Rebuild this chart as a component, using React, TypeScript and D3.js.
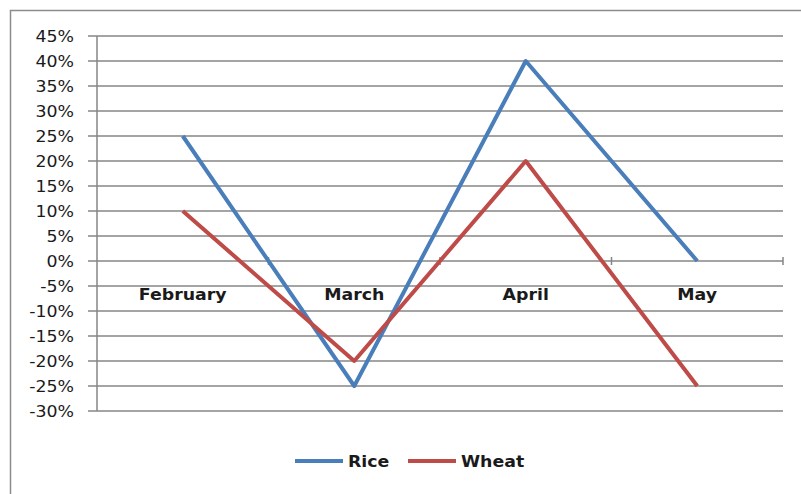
import React from "react";
import * as d3 from "d3";

const categories = ["February", "March", "April", "May"];
const rice = [25, -25, 40, 0];
const wheat = [10, -20, 20, -25];
const yTicks = [45, 40, 35, 30, 25, 20, 15, 10, 5, 0, -5, -10, -15, -20, -25, -30];
const seriesNames = ["Rice", "Wheat"];
const colors = ["#4a7ebb", "#be4b48"];

export default function App() {
  const W = 801, H = 494;
  const left = 97, right = 783, top = 36, bottom = 411;
  const x = d3.scaleBand<string>().domain(categories).range([left, right]);
  const y = d3.scaleLinear().domain([-30, 45]).range([bottom, top]);
  const line = d3
    .line<number>()
    .x((_, i) => (x(categories[i]) as number) + x.bandwidth() / 2)
    .y((d) => y(d));
  const series = [rice, wheat];
  const font = "'DejaVu Sans', sans-serif";
  return (
    <svg width={W} height={H} style={{ position: "absolute", left: 0, top: 0, background: "#fff" }}>
      <rect x={10.5} y={10.5} width={800} height={500} fill="#fff" stroke="#8c8c8c" strokeWidth={1.5} />
      {yTicks.map((t) => (
        <g key={t}>
          <line x1={88} x2={right} y1={y(t)} y2={y(t)} stroke="#868686" strokeWidth={1.5} />
          <text x={74} y={y(t)} dy="0.36em" textAnchor="end" fontFamily={font} fontSize={15.5} fill="#1a1a1a"
            transform={`translate(74,0) scale(1.12,1) translate(-74,0)`}>
            {t}%
          </text>
        </g>
      ))}
      <line x1={left} x2={left} y1={top} y2={bottom} stroke="#868686" strokeWidth={1.5} />
      {categories.map((c, i) => (
        <line key={"tk" + i} x1={(x(c) as number) + x.bandwidth()} x2={(x(c) as number) + x.bandwidth()}
          y1={y(0) - 4} y2={y(0) + 4} stroke="#868686" strokeWidth={1.5} />
      ))}
      {categories.map((c) => {
        const cx = (x(c) as number) + x.bandwidth() / 2;
        return (
          <text key={c} x={cx} y={294} dy="0.36em" textAnchor="middle" fontFamily={font} fontWeight="bold"
            fontSize={15.5} fill="#1a1a1a" transform={`translate(${cx},0) scale(1.12,1) translate(${-cx},0)`}>
            {c}
          </text>
        );
      })}
      {series.map((s, i) => (
        <path key={i} d={line(s) || ""} fill="none" stroke={colors[i]} strokeWidth={4} strokeLinejoin="round" />
      ))}
      {seriesNames.map((n, i) => {
        const lx = [295, 408][i];
        return (
          <g key={n}>
            <line x1={lx} x2={lx + 48} y1={461} y2={461} stroke={colors[i]} strokeWidth={4} />
            <text x={lx + 53} y={461} dy="0.36em" fontFamily={font} fontWeight="bold" fontSize={15.5} fill="#1a1a1a"
              transform={`translate(${lx + 53},0) scale(1.12,1) translate(${-lx - 53},0)`}>
              {n}
            </text>
          </g>
        );
      })}
    </svg>
  );
}
